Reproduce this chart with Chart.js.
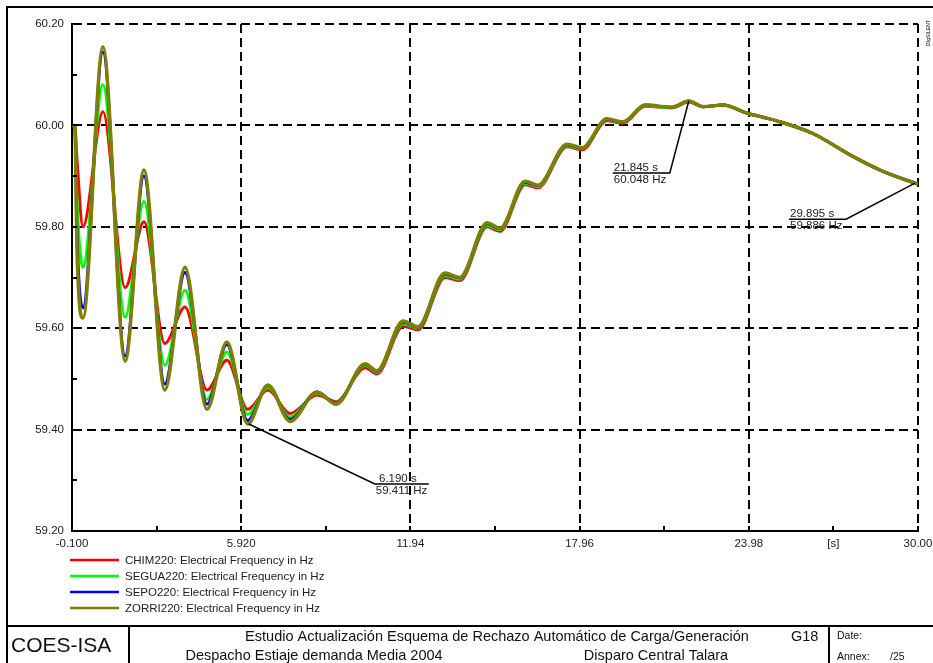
<!DOCTYPE html>
<html lang="es">
<head>
  <meta charset="UTF-8">
  <title>Disparo Central Talara - Electrical Frequency</title>
  <script src="https://cdn.jsdelivr.net/npm/chart.js"></script>
  <style>
    body { margin: 0; background: #fff; }
    #wrap { position: relative; width: 933px; height: 663px; }
  </style>
</head>
<body>

<div id="wrap">
  <canvas id="freqChart" width="933" height="663"></canvas>
</div>

<script>
  // simulation time [s]
  const times = [-0.1, 0.0, 0.08, 0.29, 1.0, 1.79, 2.46, 3.2, 3.92, 4.7, 5.41, 6.15, 6.87, 7.66, 8.62, 9.3,
    10.33, 10.75, 11.68, 12.21, 13.17, 13.7, 14.67, 15.13, 16.02, 16.48, 17.51, 18.05, 18.93, 19.5,
    20.29, 21.25, 21.845, 22.35, 23.06, 23.92, 24.49, 24.98, 26.26, 27.58, 28.65, 29.895, 30.0];

  // frequencies in Hz
  const chim220 = [60.0, 60.0, 59.93, 59.80, 60.027, 59.68, 59.81, 59.57, 59.642, 59.478, 59.537, 59.44, 59.478, 59.432, 59.468, 59.455,
    59.522, 59.51, 59.604, 59.597, 59.70, 59.694, 59.80, 59.791, 59.883, 59.877, 59.958, 59.952, 60.009, 60.004,
    60.038, 60.035, 60.046, 60.037, 60.04, 60.024, 60.016, 60.009, 59.984, 59.942, 59.912, 59.886, 59.884];
  const segua220 = [60.0, 60.0, 59.85, 59.72, 60.08, 59.622, 59.85, 59.527, 59.675, 59.46, 59.553, 59.43, 59.483, 59.425, 59.472, 59.452,
    59.527, 59.513, 59.609, 59.60, 59.704, 59.697, 59.803, 59.794, 59.886, 59.879, 59.96, 59.954, 60.011, 60.005,
    60.039, 60.035, 60.047, 60.037, 60.04, 60.024, 60.016, 60.009, 59.984, 59.942, 59.912, 59.886, 59.884];
  const sepo220 = [60.0, 60.0, 59.78, 59.64, 60.145, 59.545, 59.90, 59.49, 59.71, 59.45, 59.568, 59.418, 59.487, 59.42, 59.474, 59.451,
    59.529, 59.515, 59.612, 59.602, 59.707, 59.699, 59.806, 59.796, 59.888, 59.881, 59.962, 59.955, 60.012, 60.006,
    60.04, 60.036, 60.048, 60.037, 60.04, 60.024, 60.016, 60.009, 59.984, 59.942, 59.912, 59.886, 59.884];
  const zorri220 = [60.0, 60.0, 59.75, 59.62, 60.155, 59.535, 59.912, 59.478, 59.72, 59.44, 59.573, 59.411, 59.488, 59.416, 59.474, 59.45,
    59.53, 59.516, 59.614, 59.603, 59.709, 59.70, 59.808, 59.797, 59.89, 59.882, 59.963, 59.956, 60.013, 60.007,
    60.04, 60.036, 60.048, 60.037, 60.04, 60.024, 60.016, 60.009, 59.984, 59.942, 59.912, 59.886, 59.884];

  const seriesNames = ['CHIM220: Electrical Frequency in Hz', 'SEGUA220: Electrical Frequency in Hz',
    'SEPO220: Electrical Frequency in Hz', 'ZORRI220: Electrical Frequency in Hz'];
  const seriesValues = [chim220, segua220, sepo220, zorri220];
  const seriesColors = ['#ff0000', '#00ff00', '#0000ff', '#808000'];

  const xTicks = [-0.1, 5.92, 11.94, 17.96, 23.98, 26.99, 30.0];
  const xTickLabels = ['-0.100', '5.920', '11.94', '17.96', '23.98', '[s]', '30.00'];
  const xMinorTicks = [2.91, 8.93, 14.95, 20.97, 26.99];
  const yTicks = [59.2, 59.4, 59.6, 59.8, 60.0, 60.2];
  const yTickLabels = ['59.20', '59.40', '59.60', '59.80', '60.00', '60.20'];
  const yMinorTicks = [59.3, 59.5, 59.7, 59.9, 60.1];

  // cursor readouts
  const markerTimes = [6.19, 21.845, 29.895];
  const markerValues = [59.411, 60.048, 59.886];

  const FONT = "'Liberation Sans', Arial, sans-serif";
  const unitTick = 26.99;

  // minor ticks, cursor labels, legend and title block
  const decorPlugin = {
    id: 'decor',
    afterDatasetsDraw(chart) {
      const { ctx, scales: { x, y }, chartArea: area } = chart;
      ctx.save();
      ctx.strokeStyle = '#000';
      ctx.lineWidth = 2;
      ctx.beginPath();
      xTicks.concat(xMinorTicks).forEach(v => {
        const px = Math.round(x.getPixelForValue(v));
        ctx.moveTo(px, area.bottom);
        ctx.lineTo(px, area.bottom - 5);
      });
      yTicks.concat(yMinorTicks).forEach(v => {
        const py = Math.round(y.getPixelForValue(v));
        ctx.moveTo(area.left, py);
        ctx.lineTo(area.left + 5, py);
      });
      ctx.stroke();

      // cursor readouts
      const layout = [
        { dx: 126, dy: 60, len: 54 },
        { dx: -19, dy: 72, len: -57 },
        { dx: -69, dy: 36, len: -57 }
      ];
      ctx.lineWidth = 1.5;
      ctx.font = '11.5px ' + FONT;
      ctx.fillStyle = '#222';
      markerTimes.forEach((t, i) => {
        const ax = x.getPixelForValue(t);
        const ay = y.getPixelForValue(markerValues[i]);
        const l = layout[i];
        const ex = ax + l.dx, ey = ay + l.dy;
        ctx.beginPath();
        ctx.moveTo(ax, ay);
        ctx.lineTo(ex, ey);
        ctx.lineTo(ex + l.len, ey);
        ctx.stroke();
        const left = Math.min(ex, ex + l.len);
        ctx.textAlign = 'left';
        ctx.textBaseline = 'alphabetic';
        ctx.fillText(t.toFixed(3).padStart(6, ' ') + ' s', left + 1, ey - 2);
        ctx.textBaseline = 'top';
        ctx.fillText(markerValues[i].toFixed(3) + ' Hz', left + 1, ey + 1);
      });
      ctx.restore();
    },
    afterDraw(chart) {
      const ctx = chart.ctx;
      ctx.save();
      // legend
      ctx.font = '11.5px ' + FONT;
      ctx.textBaseline = 'middle';
      ctx.textAlign = 'left';
      chart.data.datasets.forEach((ds, i) => {
        const ly = 560 + i * 16;
        ctx.strokeStyle = ds.borderColor;
        ctx.lineWidth = 2.5;
        ctx.beginPath();
        ctx.moveTo(70, ly);
        ctx.lineTo(119, ly);
        ctx.stroke();
        ctx.fillStyle = '#222';
        ctx.fillText(ds.label, 125, ly + 1);
      });

      // frame and title block
      ctx.strokeStyle = '#000';
      ctx.lineWidth = 2;
      ctx.strokeRect(7, 7, 940, 670);
      ctx.beginPath();
      ctx.moveTo(7, 626); ctx.lineTo(933, 626);
      ctx.moveTo(129, 626); ctx.lineTo(129, 663);
      ctx.moveTo(829, 626); ctx.lineTo(829, 663);
      ctx.stroke();

      ctx.fillStyle = '#111';
      ctx.textBaseline = 'middle';
      ctx.font = '21px ' + FONT;
      ctx.fillText('COES-ISA', 11, 646);
      ctx.font = '14.5px ' + FONT;
      ctx.textAlign = 'center';
      ctx.fillText('Estudio Actualización Esquema de Rechazo Automático de Carga/Generación', 497, 637);
      ctx.fillText('Despacho Estiaje demanda Media 2004', 314, 656);
      ctx.fillText('Disparo Central Talara', 656, 656);
      ctx.textAlign = 'left';
      ctx.fillText('G18', 791, 637);
      ctx.font = '10.5px ' + FONT;
      ctx.fillText('Date:', 837, 636);
      ctx.fillText('Annex:', 837, 657);
      ctx.fillText('/25', 890, 657);

      // tiny program tag in the corner
      ctx.translate(929, 46);
      ctx.rotate(-Math.PI / 2);
      ctx.font = 'bold 5px ' + FONT;
      ctx.fillStyle = '#555';
      ctx.fillText('DIgSILENT', 0, 0);
      ctx.restore();
    }
  };

  const gridColor = c => (c.tick && c.tick.value === unitTick) ? 'rgba(0,0,0,0)' : '#000';

  new Chart(document.getElementById('freqChart'), {
    type: 'line',
    data: {
      datasets: seriesValues.map((vals, i) => ({
        label: seriesNames[i],
        data: times.map((t, k) => ({ x: t, y: vals[k] })),
        borderColor: seriesColors[i],
        borderWidth: i === 3 ? 3.5 : 3,
        pointRadius: 0,
        cubicInterpolationMode: 'monotone',
        fill: false,
        order: 4 - i
      }))
    },
    options: {
      responsive: false,
      animation: false,
      layout: { padding: { left: 0, top: 24, right: 15, bottom: 108 } },
      plugins: { legend: { display: false }, tooltip: { enabled: false } },
      scales: {
        x: {
          type: 'linear',
          min: -0.1,
          max: 30.0,
          afterBuildTicks: s => { s.ticks = xTicks.map(v => ({ value: v })); },
          afterFit: s => { s.height = 24; s.paddingLeft = 0; s.paddingRight = 0; },
          ticks: {
            autoSkip: false,
            maxRotation: 0,
            padding: 6,
            color: '#1a1a1a',
            font: { family: FONT, size: 11.5 },
            callback: (v, i) => xTickLabels[i]
          },
          grid: { color: gridColor, lineWidth: 2, drawTicks: false },
          border: { color: '#000', width: 2, dash: [9, 5] }
        },
        y: {
          min: 59.2,
          max: 60.2,
          afterBuildTicks: s => { s.ticks = yTicks.map(v => ({ value: v })); },
          afterFit: s => { s.width = 72; },
          ticks: {
            padding: 8,
            color: '#1a1a1a',
            font: { family: FONT, size: 11.5 },
            callback: (v, i) => yTickLabels[i]
          },
          grid: { color: '#000', lineWidth: 2, drawTicks: false },
          border: { color: '#000', width: 2, dash: [9, 5] }
        }
      }
    },
    plugins: [decorPlugin]
  });
</script>

</body>
</html>
